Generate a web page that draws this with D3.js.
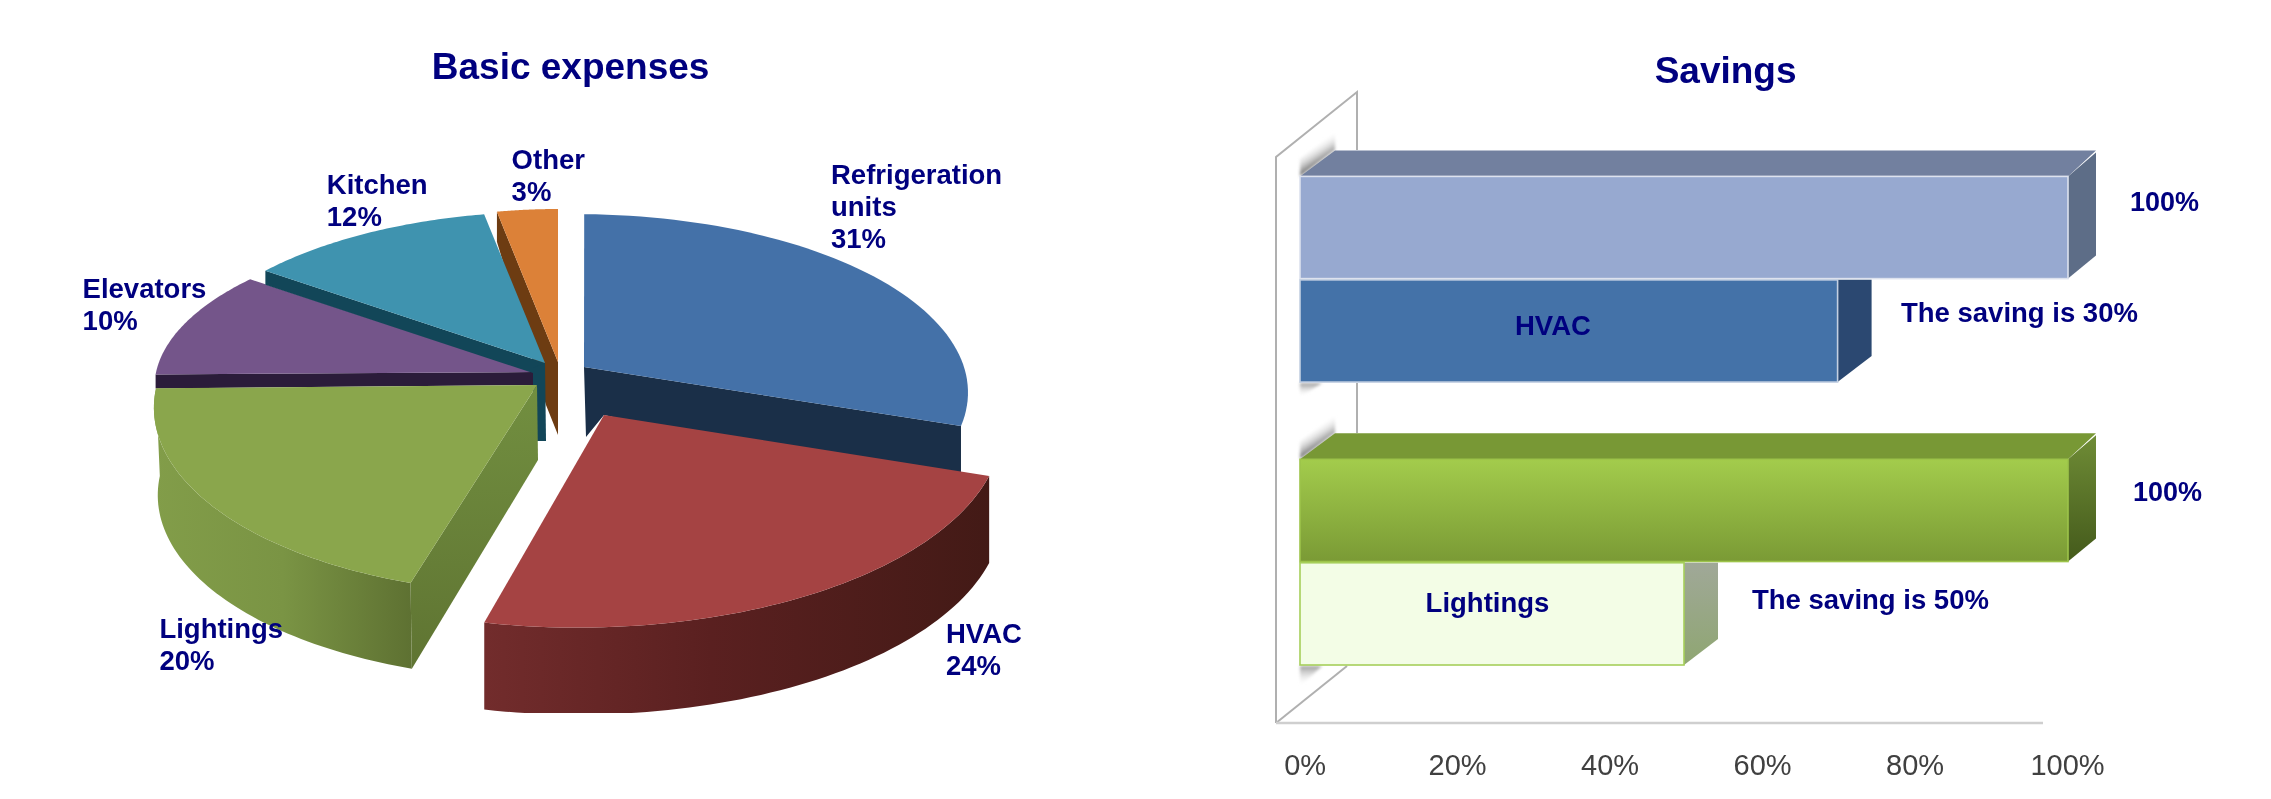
<!DOCTYPE html>
<html><head><meta charset="utf-8">
<style>html,body{margin:0;padding:0;background:#fff}svg{display:block}text{font-family:"Liberation Sans",Arial,sans-serif}</style>
<script src="https://cdn.jsdelivr.net/npm/d3@7/dist/d3.min.js"></script>
</head><body><div id="c"></div>
<script>
// ---------- data ----------
const pieCategories = ["Refrigeration units","HVAC","Lightings","Elevators","Kitchen","Other"];
const pieShares = [31,24,20,10,12,3];
const barGroups = ["HVAC","Lightings"];
const barBaseline = [100,100];
const barAfterSaving = [70,50];
const xTickValues = [0,20,40,60,80,100];
const chartTitles = ["Basic expenses","Savings"];

// ---------- layout ----------
const W=2271,H=799,NAVY="#00007f";
const svg=d3.select("#c").append("svg").attr("width",W).attr("height",H).attr("viewBox",[0,0,W,H]);
const defs=svg.append("defs");
function grad(id,stops,dir){
  const g=defs.append("linearGradient").attr("id",id);
  const d=dir||{x1:0,y1:0,x2:1,y2:0};
  Object.entries(d).forEach(([k,v])=>g.attr(k,v));
  stops.forEach(([o,c,a])=>g.append("stop").attr("offset",o).attr("stop-color",c).attr("stop-opacity",a==null?1:a));
  return `url(#${id})`;
}
const redSide=grad("redSide",[[0,"#722c2c"],[.45,"#5a2020"],[1,"#431a16"]]);
const greenSide=grad("greenSide",[[0,"#829d49"],[.5,"#7a9444"],[1,"#5e7132"]]);
const greenWall=grad("greenWall",[[0,"#728f40"],[1,"#5f7432"]],{x1:0,y1:0,x2:0,y2:1});
defs.append("clipPath").attr("id","pieClip").append("rect").attr("x",0).attr("y",0).attr("width",1135).attr("height",713);
defs.append("filter").attr("id","soft").append("feGaussianBlur").attr("stdDeviation",1.6);
defs.append("filter").attr("id","softText").append("feGaussianBlur").attr("stdDeviation",.35);

// Each slice of the tilted pie: ellipse, pie apex, angular warp, depth and colours
const sliceLook=[
 {cx:576,cy:392.5,rx:392,ry:178.4,ax:584,ay:367,a:1.2,b:.893,top:"#4471a8",wall:"#1a2f48",wallDepth:70},
 {cx:578,cy:425.6,rx:424.6,ry:202,ax:604,ay:415,a:-9.6,b:1.022,top:"#a54343",side:redSide,depth:87,sideScale:1},
 {cx:539.9,cy:407.7,rx:386,ry:186,ax:537,ay:385,a:-10.5,b:1.061,top:"#8aa64c",side:greenSide,depth:87.5,sideScale:.99,greenWall:true},
 {cx:534.8,cy:387.4,rx:380.4,ry:163,ax:533,ay:372,a:-3,b:1.028,top:"#74558a",band:"#2b1c3a",bandStart:14,bandEnd:13},
 {cx:550.7,cy:382.3,rx:377,ry:170.7,ax:545,ay:363,a:34.5,b:.903,top:"#3f93af",band:"#124658",bandStart:14,bandEnd:14},
 {cx:558,cy:362,rx:326,ry:153,ax:558,ay:362,a:0,b:1,top:"#dc8138",brown:"#6d3c12"}
];
const arcs=d3.pie().sort(null).value(d=>d)(pieShares);
const deg=r=>r*180/Math.PI;
function project(s,angle,dy=0,scale=1){
  const t=(s.a+s.b*angle)*Math.PI/180;
  return [s.cx+s.rx*scale*Math.sin(t),s.cy-s.ry*scale*Math.cos(t)+dy];
}
function arcPts(s,a0,a1,dy=0,scale=1){
  return d3.range(0,61).map(i=>project(s,a0+(a1-a0)*i/60,dy,scale));
}
const poly=d3.line();
const pieG=svg.append("g").attr("clip-path","url(#pieClip)");
function drawSlice(i){
  const s=sliceLook[i],a0=deg(arcs[i].startAngle),a1=deg(arcs[i].endAngle);
  const g=pieG.append("g").attr("class","slice");
  const e0=project(s,a0),e1=project(s,a1),apex=[s.ax,s.ay];
  if(s.wall){ // inner wall below the second radial edge, cut where the next slice starts
    g.append("path").attr("fill",s.wall).attr("d",poly([apex,e1,[e1[0],e1[1]+s.wallDepth],[apex[0]+20,apex[1]+48],[apex[0]+2,apex[1]+s.wallDepth]])+"Z");
  }
  if(s.brown){
    g.append("path").attr("fill",s.brown).attr("d",poly([e0,apex,[apex[0],apex[1]+73],[apex[0]-12,apex[1]+43],[e0[0],e0[1]+30]])+"Z");
  }
  if(s.band){
    g.append("path").attr("fill",s.band).attr("d",poly([e0,apex,[apex[0],apex[1]+s.bandEnd],[e0[0],e0[1]+s.bandStart]])+"Z");
  }
  if(i===4){ // sliver of the kitchen wall at the pie centre
    g.append("path").attr("fill",s.band).attr("d",poly([[apex[0]-12,apex[1]+5],apex,[apex[0]+1,apex[1]+78],[apex[0]-12,apex[1]+78]])+"Z");
  }
  if(s.side){
    const top=arcPts(s,a0,a1),bot=arcPts(s,a0,a1,s.depth,s.sideScale).reverse();
    g.append("path").attr("fill",s.side).attr("d",poly(top.concat(bot))+"Z");
  }
  if(s.greenWall){
    const eb=project(s,a0,s.depth,s.sideScale);
    g.append("path").attr("fill",greenWall).attr("d",poly([apex,e0,eb,[apex[0]+1,apex[1]+75]])+"Z");
  }
  g.append("path").attr("fill",s.top).attr("d",poly([apex].concat(arcPts(s,a0,a1)))+"Z");
}
[0,5,3,4,2,1].forEach(drawSlice);

// Text helpers
function label(x,y,lines,opts={}){
  const t=svg.append("text").attr("x",x).attr("y",y).attr("fill",opts.fill||NAVY)
    .attr("font-weight",opts.weight||"bold").attr("font-size",opts.size||27.5)
    .attr("text-anchor",opts.anchor||"start").attr("filter","url(#softText)");
  lines.forEach((l,i)=>t.append("tspan").attr("x",x).attr("y",y+i*32).text(l));
}
label(570.6,79,[chartTitles[0]],{size:37,anchor:"middle"});
const pieLabelPos=[[831,183.5],[946,643],[159.4,638],[82.6,298],[326.8,194.2],[511.6,169]];
pieCategories.forEach((c,i)=>{
  const words=c==="Refrigeration units"?c.split(" "):[c];
  label(pieLabelPos[i][0],pieLabelPos[i][1],[...words,pieShares[i]+"%"]);
});

// ---------- bars ----------
const x=d3.scaleLinear().domain([0,100]).range([1300,2068]);
const y0=d3.scaleBand().domain(barGroups).range([176.4,665]).paddingInner(.273);
const y1=d3.scaleBand().domain(["base","saved"]).range([0,y0.bandwidth()]).paddingInner(.012);
const wall=svg.append("g").attr("fill","none").attr("stroke","#b0b0b0").attr("stroke-width",2);
const wx0=1276,wx1=1357,floorY=723;
wall.append("path").attr("d",poly([[wx0,floorY],[wx0,157],[wx1,92],[wx1,150]]));
wall.append("path").attr("d",poly([[wx1,383],[wx1,433]]));
wall.append("path").attr("d",poly([[wx0,floorY],[1347,666]]));
svg.append("line").attr("x1",wx0).attr("x2",2043).attr("y1",floorY).attr("y2",floorY).attr("stroke","#cfcfcf").attr("stroke-width",2.5);

const sh=svg.append("g").attr("filter","url(#soft)");
function barShadow(id,yFront,yBack){
  const fill=grad(id,[[0,"#808080"],[1,"#ffffff",0]],{gradientUnits:"userSpaceOnUse",x1:1318,y1:(yFront+yBack)/2,x2:1308,y2:(yFront+yBack)/2-16});
  sh.append("path").attr("fill",fill).attr("d",poly([[1300,yFront],[1335,yBack],[1335,yBack-18],[1300,yFront-18]])+"Z");
}
barShadow("shA",y0("HVAC"),150);
barShadow("shB",y0("Lightings"),433);
function underShadow(id,yy,len){
  const fill=grad(id,[[0,"#9a9a9a"],[1,"#ffffff",0]],{x1:0,y1:0,x2:0,y2:1});
  sh.append("path").attr("fill",fill).attr("d",poly([[1300,yy],[1322,yy],[1300,yy+len]])+"Z");
}
underShadow("shC",y0("HVAC")+y0.bandwidth()+1,14);
underShadow("shD",y0("Lightings")+y0.bandwidth()+1,20);

const greenFront=grad("greenFront",[[0,"#a3cc4c"],[1,"#7a9a35"]],{x1:0,y1:0,x2:0,y2:1});
const greenRight=grad("greenRight",[[0,"#6f8c36"],[1,"#445a1b"]],{x1:0,y1:0,x2:0,y2:1});
const paleRight=grad("paleRight",[[0,"#a0a898"],[1,"#8fa672"]],{x1:0,y1:0,x2:0,y2:1});
const barLook={
 HVAC:{base:{front:"#97a9d0",top:"#72809f",right:"#5d6d87",stroke:"#dde2ee"},
       saved:{front:"#4472a8",right:"#2b4871",stroke:"#c4d0e2"}},
 Lightings:{base:{front:greenFront,top:"#789835",right:greenRight,stroke:"#9dc44a"},
       saved:{front:"#f3fde6",right:paleRight,stroke:"#a6cf5a"}}
};
const bars=svg.append("g");
barGroups.forEach((g,gi)=>{
  [["base",barBaseline[gi]],["saved",barAfterSaving[gi]]].forEach(([k,v])=>{
    const look=barLook[g][k],yt=y0(g)+y1(k),h=y1.bandwidth(),xr=x(v);
    const dx=k==="base"?28:34,dyTop=k==="base"?24:0,dyBot=k==="base"?23:26;
    if(look.top){
      bars.append("path").attr("fill",look.top).attr("d",poly([[x(0),yt],[x(0)+35,yt-26],[xr+dx,yt-26],[xr,yt]])+"Z");
    }
    bars.append("path").attr("fill",look.right).attr("d",poly([[xr,yt],[xr+dx,yt-dyTop],[xr+dx,yt+h-dyBot],[xr,yt+h]])+"Z");
    bars.append("rect").attr("x",x(0)).attr("y",yt).attr("width",xr-x(0)).attr("height",h)
      .attr("fill",look.front).attr("stroke",look.stroke).attr("stroke-width",1.6);
  });
});

// Axis tick labels
const axisScale=d3.scaleLinear().domain([0,100]).range([1304.6,2067]);
const axis=d3.axisBottom(axisScale).tickValues(xTickValues).tickSize(0).tickPadding(0).tickFormat(d=>d+"%");
const ax=svg.append("g").attr("transform","translate(0,754)").call(axis);
ax.select(".domain").remove();
ax.selectAll("text").attr("font-size",29).attr("fill","#404040").attr("font-family",'"Liberation Sans",Arial,sans-serif').attr("filter","url(#softText)");

// Bar texts
label(1725.6,82.6,[chartTitles[1]],{size:37,anchor:"middle"});
label(1515,335,[barGroups[0]]);
label(1425.6,612,[barGroups[1]]);
label(2130,211,[barBaseline[0]+"%"],{size:27});
label(2133,501,[barBaseline[1]+"%"],{size:27});
label(1901,322,[`The saving is ${barBaseline[0]-barAfterSaving[0]}%`]);
label(1752,609,[`The saving is ${barBaseline[1]-barAfterSaving[1]}%`]);
</script></body></html>
